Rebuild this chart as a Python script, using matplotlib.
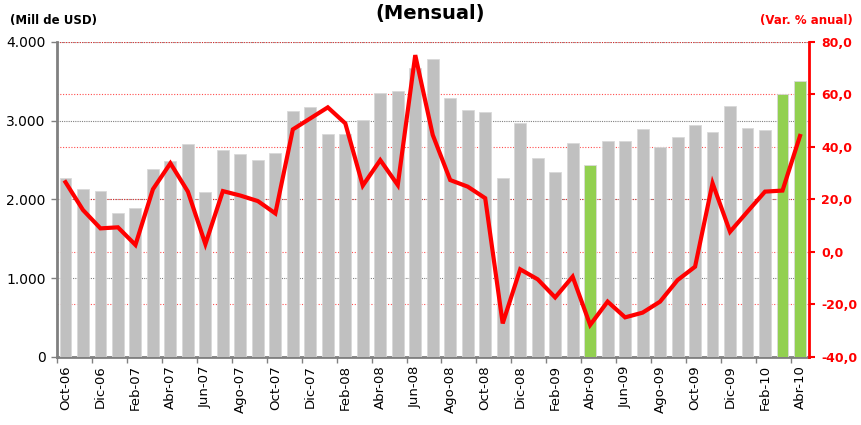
import matplotlib
matplotlib.use("Agg")
import matplotlib.pyplot as plt
import numpy as np

months = ["Oct-06","Nov-06","Dic-06","Ene-07","Feb-07","Mar-07","Abr-07","May-07","Jun-07","Jul-07",
          "Ago-07","Sep-07","Oct-07","Nov-07","Dic-07","Ene-08","Feb-08","Mar-08","Abr-08","May-08",
          "Jun-08","Jul-08","Ago-08","Sep-08","Oct-08","Nov-08","Dic-08","Ene-09","Feb-09","Mar-09",
          "Abr-09","May-09","Jun-09","Jul-09","Ago-09","Sep-09","Oct-09","Nov-09","Dic-09","Ene-10",
          "Feb-10","Mar-10","Abr-10"]
valores = [2273, 2133, 2104, 1824, 1896, 2387, 2489, 2700, 2091, 2628,
           2578, 2506, 2595, 3120, 3175, 2832, 2832, 3005, 3352, 3382,
           3666, 3784, 3289, 3132, 3115, 2273, 2967, 2523, 2345, 2713,
           2438, 2743, 2743, 2895, 2671, 2789, 2950, 2861, 3187, 2904,
           2878, 3344, 3501]
var_anual = [26.6, 16.0, 9.0, 9.4, 2.7, 23.9, 33.8, 23.0, 3.0, 23.2,
             21.5, 19.4, 14.7, 46.7, 50.9, 55.1, 49.0, 25.3, 35.0, 25.5,
             75.0, 44.6, 27.4, 24.9, 20.5, -27.2, -6.6, -10.4, -17.3, -9.4,
             -27.8, -18.9, -24.9, -23.1, -18.9, -10.7, -5.6, 26.2, 7.7, 15.4,
             23.0, 23.4, 44.2]
destacados = ["Abr-09", "Mar-10", "Abr-10"]
left_ticks = [0, 1000, 2000, 3000, 4000]
left_labels = ["0", "1.000", "2.000", "3.000", "4.000"]
right_ticks = [-40, -20, 0, 20, 40, 60, 80]
right_labels = ["-40,0", "-20,0", "0,0", "20,0", "40,0", "60,0", "80,0"]

fig = plt.figure(figsize=(8.61, 4.25), dpi=100)
ax1 = fig.add_axes([0.0659, 0.16, 0.8734, 0.7412])
ax2 = ax1.twinx()

x = np.arange(len(months))
colors = ["#92D050" if m in destacados else "#C0C0C0" for m in months]
ax1.bar(x, valores, width=0.68, color=colors, edgecolor="#D9D9D9", linewidth=0.6, zorder=3)
ax1.set_xlim(-0.5, len(months) - 0.5)
ax1.set_ylim(0, 4000)

# gridlines behind bars
for t in left_ticks[1:]:
    ax1.axhline(t, color="#808080", linestyle=(0, (1, 1)), linewidth=0.8, zorder=1)
ylo, yhi = -40, 80
for t in right_ticks[1:]:
    yv = (t - ylo) / (yhi - ylo) * 4000
    ax1.axhline(yv, color="#FF0000", linestyle=(0, (1, 1.5)), linewidth=0.8, alpha=0.7, zorder=1.5)

ax2.plot(x, var_anual, color="#FF0000", linewidth=3, solid_joinstyle="miter", zorder=4)
ax2.set_ylim(ylo, yhi)

ax1.set_yticks(left_ticks)
ax1.set_yticklabels(left_labels, fontsize=10, color="#000000")
ax2.set_yticks(right_ticks)
ax2.set_yticklabels(right_labels, fontsize=9, color="#FF0000", fontweight="bold")

ax1.set_xticks(x[::2])
ax1.set_xticklabels(months[::2], rotation=90, fontsize=9.5)
ax1.set_xticks(np.arange(-0.5, len(months), 2), minor=True)
ax1.tick_params(axis="x", which="major", length=0, pad=6)
ax1.tick_params(axis="x", which="minor", length=4, color="#808080", width=1)
ax1.tick_params(axis="y", length=4, color="#808080", width=1, pad=4)
ax2.tick_params(axis="y", length=4, color="#FF0000", width=1.5, pad=5)

for s in ["top"]:
    ax1.spines[s].set_visible(False)
    ax2.spines[s].set_visible(False)
ax1.spines["left"].set_color("#808080")
ax1.spines["left"].set_linewidth(2)
ax1.spines["bottom"].set_color("#808080")
ax1.spines["bottom"].set_linewidth(2)
ax1.spines["right"].set_visible(False)
ax2.spines["left"].set_visible(False)
ax2.spines["bottom"].set_visible(False)
ax2.spines["right"].set_color("#FF0000")
ax2.spines["right"].set_linewidth(2)

fig.text(0.5, 0.99, "(Mensual)", ha="center", va="top", fontsize=14, fontweight="bold")
fig.text(0.012, 0.952, "(Mill de USD)", ha="left", va="center", fontsize=8.5, fontweight="bold")
fig.text(0.99, 0.952, "(Var. % anual)", ha="right", va="center", fontsize=8.5, fontweight="bold", color="#FF0000")

fig.savefig("out.png", dpi=100)
